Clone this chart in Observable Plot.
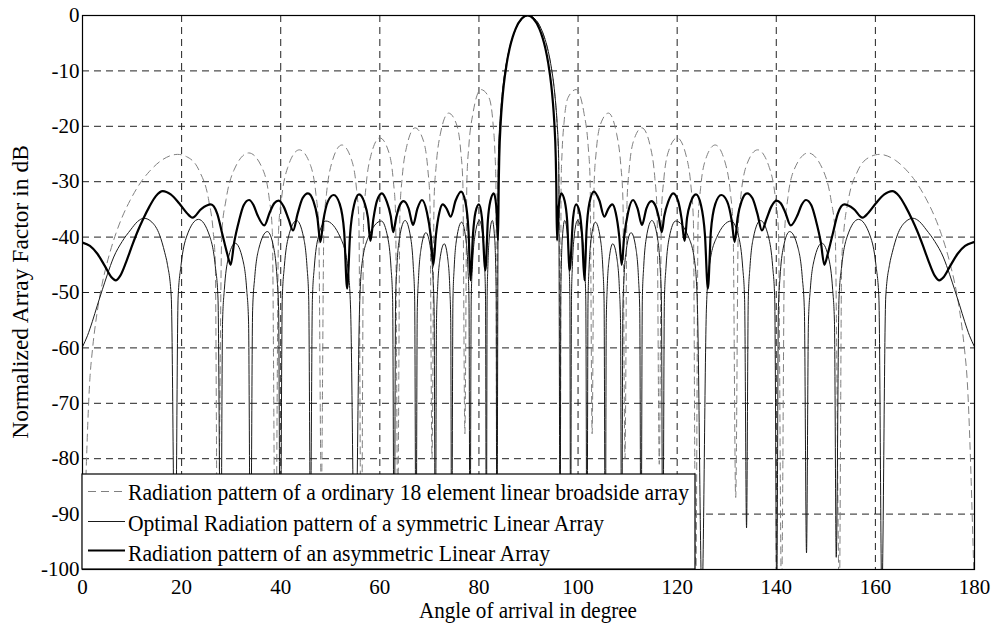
<!DOCTYPE html>
<html>
<head>
<meta charset="utf-8">
<script src="https://cdn.jsdelivr.net/npm/d3@7"></script>
<script src="https://cdn.jsdelivr.net/npm/@observablehq/plot@0.6"></script>
<style>
html, body { margin: 0; padding: 0; background: #fff; }
#chart { position: relative; width: 993px; height: 626px; overflow: hidden; }
</style>
</head>
<body>
<div id="chart"></div>
<script>
// ---------- data ----------
const seriesNames = [
  "Radiation pattern of a ordinary 18 element linear broadside array",
  "Optimal Radiation pattern of a symmetric Linear Array",
  "Radiation pattern of an asymmetric Linear Array"
];
const xTicks = [0, 20, 40, 60, 80, 100, 120, 140, 160, 180];
const yTicks = [0, -10, -20, -30, -40, -50, -60, -70, -80, -90, -100];
const xLabel = "Angle of arrival in degree";
const yLabel = "Normalized Array Factor in dB";

// [angle (deg), level (dB)]
const uniformPattern = [
[0,-105],[1.51,-65.3],[2,-60.4],[3.02,-53.2],[4,-48.3],[4.78,-45.3],[6.76,-39.3],[8,-36.4],[9.56,-33.45],[12,-29.8],[13.54,-28.11],[16,-26.11],[19.19,-25.07],[21,-25.48],[23.56,-28.04],[25.47,-33.35],[26.39,-39.18],[26.8,-44.7],[27.27,-105],
[28.12,-39.15],[28.96,-33.28],[30.56,-27.91],[33.56,-24.81],[36.34,-27.70],[37.67,-32.97],[38.30,-38.79],[38.94,-105],
[39.57,-38.72],[40.19,-32.83],[41.41,-27.43],[43.76,-24.25],[46.02,-27.07],[47.11,-32.30],[47.66,-38.10],[48.19,-87],
[48.72,-37.99],[49.25,-32.08],[50.29,-26.64],[52.33,-23.37],[54.31,-26.10],[55.29,-31.29],[55.77,-37.06],[56.25,-105],
[56.73,-36.90],[57.20,-30.97],[58.14,-25.47],[60.00,-22.10],[61.82,-24.71],[62.72,-29.83],[63.17,-35.57],[63.61,-90],
[64.06,-35.34],[64.50,-29.38],[65.38,-23.80],[67.11,-20.28],[68.83,-22.72],[69.68,-27.75],[70.11,-33.44],[70.53,-80],
[70.95,-33.11],[71.37,-27.09],[72.21,-21.40],[73.87,-17.62],[75.52,-19.77],[76.34,-24.63],[76.75,-30.23],[77.16,-75.5],
[77.57,-29.71],[77.96,-23.59],[78.79,-17.68],[80.41,-13.37],[82.02,-14.82],[82.82,-19.25],[83.22,-24.61],[83.42,-30.3],[83.62,-100],
[83.82,-29.8],[84.02,-23.54],[84.42,-17.09],[84.82,-13.22],[85.22,-10.43],[86.02,-6.53],[86.82,-3.91],[87.61,-2.11],[88.41,-0.91],[89.20,-0.22],[90,0],
[90.80,-0.22],[91.59,-0.91],[92.39,-2.11],[93.18,-3.91],[93.98,-6.53],[94.78,-10.43],[95.18,-13.22],[95.58,-17.09],[95.98,-23.54],[96.18,-29.8],[96.38,-100],
[96.58,-30.3],[96.78,-24.61],[97.18,-19.25],[97.98,-14.82],[99.59,-13.37],[101.21,-17.68],[102.04,-23.59],[102.43,-29.71],[102.84,-75.5],
[103.25,-30.23],[103.66,-24.63],[104.48,-19.77],[106.13,-17.62],[107.79,-21.40],[108.63,-27.09],[109.05,-33.11],[109.47,-80],
[109.89,-33.44],[110.32,-27.75],[111.17,-22.72],[112.89,-20.28],[114.62,-23.80],[115.50,-29.38],[115.94,-35.34],[116.39,-81],
[116.83,-35.57],[117.28,-29.83],[118.18,-24.71],[120.00,-22.10],[121.86,-25.47],[122.80,-30.97],[123.27,-36.90],[123.75,-105],
[124.23,-37.06],[124.71,-31.29],[125.69,-26.10],[127.67,-23.37],[129.71,-26.64],[130.75,-32.08],[131.28,-37.99],[131.81,-87],
[132.34,-38.10],[132.89,-32.30],[133.98,-27.07],[136.24,-24.25],[138.59,-27.43],[139.81,-32.83],[140.43,-38.72],[141.06,-105],
[141.70,-38.79],[142.33,-32.97],[143.66,-27.70],[146.44,-24.81],[149.44,-27.91],[151.04,-33.28],[151.88,-39.15],[152.73,-105],
[153.2,-44.7],[153.61,-39.18],[154.53,-33.35],[156.44,-28.04],[159,-25.48],[160.81,-25.07],[164,-26.11],[166.46,-28.11],[168,-29.8],[170.44,-33.45],[172,-36.4],[173.24,-39.3],[175.22,-45.3],[176,-48.3],[176.98,-53.2],[178,-60.4],[178.49,-65.3],[180,-105]
];

const symmetricPattern = [
[0,-59.8],[1,-57.8],[2,-55.2],[3,-52.3],[4,-49.5],[5,-46.8],[6.3,-43.6],[8,-40.8],[9.7,-38.7],[11.1,-37.2],[12.4,-36.6],[14,-37.3],[15.55,-39.6],[16.6,-42.8],[17.13,-44.9],[17.91,-50.8],[18.7,-105],
[19.29,-51.0],[19.88,-45.1],[21.05,-39.8],[23.4,-36.8],[25.65,-39.8],[26.78,-45.1],[27.34,-51.0],[27.9,-105],
[28.26,-55.3],[28.63,-49.4],[29.35,-44.1],[30.8,-41.1],[32.35,-44.1],[33.13,-49.4],[33.51,-55.3],[33.9,-105],
[34.33,-53.2],[34.75,-47.3],[35.6,-42.0],[37.3,-39.0],[38.6,-42.0],[39.25,-47.3],[39.58,-53.2],[39.9,-105],
[40.31,-51.2],[40.73,-45.3],[41.55,-40.0],[43.2,-37.0],[44.6,-40.0],[45.3,-45.3],[45.65,-51.2],[46.0,-92.5],
[46.39,-51.3],[46.78,-45.4],[47.55,-40.1],[49.1,-37.1],[52.05,-40.1],[53.53,-45.4],[54.1,-53],[55.0,-105],
[55.9,-53],[56.33,-45.4],[57.65,-40.1],[60.3,-37.1],[61.6,-40.1],[62.25,-45.4],[62.58,-51.3],[62.9,-105],
[63.18,-51.2],[63.45,-45.3],[64.0,-40.0],[65.1,-37.0],[66.2,-40.0],[66.75,-45.3],[67.03,-51.2],[67.3,-105],
[67.55,-53.4],[67.8,-47.5],[68.3,-42.2],[69.3,-39.2],[70.25,-42.2],[70.73,-47.5],[70.96,-53.4],[71.2,-105],
[71.43,-55.4],[71.65,-49.5],[72.1,-44.2],[73.0,-41.2],[73.75,-44.2],[74.13,-49.5],[74.31,-55.4],[74.5,-105],
[74.75,-51.5],[75.0,-45.6],[75.5,-40.3],[76.5,-37.3],[77.35,-40.3],[77.78,-45.6],[77.99,-51.5],[78.2,-105],
[78.44,-51.2],[78.68,-45.3],[79.15,-40.0],[80.1,-37.0],[80.8,-40.0],[81.15,-45.3],[81.33,-51.2],[81.5,-105],
[81.65,-51.2],[81.8,-45.3],[82.1,-40.0],[82.7,-37.0],[83.15,-40.0],[83.38,-45.3],[83.49,-51.2],[83.6,-105],
[83.92,-25.6],[84.24,-19.2],[84.56,-15.4],[84.88,-12.6],[85.52,-8.7],[86.16,-5.9],[86.8,-3.9],[87.44,-2.4],[88.72,-0.6],[90,0],
[91.28,-0.6],[92.56,-2.4],[93.2,-3.9],[93.84,-5.9],[94.48,-8.7],[95.12,-12.6],[95.44,-15.4],[95.76,-19.2],[96.08,-25.6],[96.4,-105],
[96.51,-51.2],[96.62,-45.3],[96.85,-40.0],[97.3,-37.0],[97.9,-40.0],[98.2,-45.3],[98.35,-51.2],[98.5,-105],
[98.67,-51.2],[98.85,-45.3],[99.2,-40.0],[99.9,-37.0],[100.85,-40.0],[101.32,-45.3],[101.56,-51.2],[101.8,-105],
[102.01,-51.5],[102.22,-45.6],[102.65,-40.3],[103.5,-37.3],[104.5,-40.3],[105.0,-45.6],[105.25,-51.5],[105.5,-105],
[105.69,-55.4],[105.87,-49.5],[106.25,-44.2],[107.0,-41.2],[107.9,-44.2],[108.35,-49.5],[108.57,-55.4],[108.8,-105],
[109.04,-53.4],[109.27,-47.5],[109.75,-42.2],[110.7,-39.2],[111.7,-42.2],[112.2,-47.5],[112.45,-53.4],[112.7,-105],
[112.97,-51.2],[113.25,-45.3],[113.8,-40.0],[114.9,-37.0],[116.0,-40.0],[116.55,-45.3],[116.82,-51.2],[117.1,-105],
[117.42,-51.3],[117.75,-45.4],[118.4,-40.1],[119.7,-37.1],[122.35,-40.1],[123.67,-45.4],[124.1,-53],[125.0,-105],
[125.9,-53],[126.47,-45.4],[127.95,-40.1],[130.9,-37.1],[132.45,-40.1],[133.22,-45.4],[133.61,-51.3],[134.0,-92.5],
[134.35,-51.2],[134.7,-45.3],[135.4,-40.0],[136.8,-37.0],[138.45,-40.0],[139.27,-45.3],[139.69,-51.2],[140.1,-105],
[140.42,-53.2],[140.75,-47.3],[141.4,-42.0],[142.7,-39.0],[144.4,-42.0],[145.25,-47.3],[145.67,-53.2],[146.1,-97],
[146.49,-55.3],[146.87,-49.4],[147.65,-44.1],[149.2,-41.1],[150.65,-44.1],[151.37,-49.4],[151.74,-55.3],[152.1,-97.8],
[152.66,-51.0],[153.22,-45.1],[154.35,-39.8],[156.6,-36.8],[158.95,-39.8],[160.12,-45.1],[160.71,-51.0],[161.3,-105],
[162.09,-50.8],[162.87,-44.9],[163.4,-42.8],[164.45,-39.6],[166,-37.3],[167.6,-36.6],[168.9,-37.2],[170.3,-38.7],[172,-40.8],[173.7,-43.6],[175,-46.8],[176,-49.5],[177,-52.3],[178,-55.2],[179,-57.8],[180,-59.8]
];

const asymmetricPattern = [
[0,-41.0],[1.5,-41.6],[3,-43.0],[4.5,-45.2],[5.8,-47.2],[6.7,-47.8],[7.6,-47.0],[8.8,-44.5],[10.1,-41.3],[11.2,-38.8],[12.1,-37.0],[13.5,-34.5],[14.8,-32.6],[16.2,-31.7],[17.8,-32.3],[19.5,-33.9],[21.0,-35.6],[22.2,-36.5],[24.0,-34.9],[25.9,-34.1],
[27.2,-35.8],[28.2,-39.4],[29.2,-43.0],[29.9,-45.0],[30.6,-41.0],[31.6,-37.0],[32.5,-34.3],[33.6,-33.3],[34.5,-34.2],[35.3,-36.0],[36.7,-37.9],[37.8,-35.5],[38.7,-33.9],[39.6,-33.4],[40.6,-34.5],[41.6,-36.8],[42.5,-38.8],[43.4,-35.8],[44.4,-33.0],[45.5,-32.1],
[46.6,-33.5],[47.4,-36.5],[48.0,-40.9],[48.6,-37.0],[49.5,-33.6],[50.7,-32.4],[51.9,-34.0],[52.8,-39.0],[53.4,-49.3],[54.0,-39.5],[54.8,-34.2],[55.8,-32.3],[56.9,-33.8],[57.6,-36.5],[58.1,-40.7],[58.7,-36.7],[59.4,-33.5],[60.4,-32.1],
[61.4,-33.6],[62.2,-36.2],[62.7,-39.1],[63.3,-36.5],[64.0,-34.3],[64.8,-33.5],[65.8,-34.8],[66.7,-37.8],[67.6,-34.8],[68.5,-33.3],[69.5,-35.5],[70.3,-40.0],[70.8,-45.0],[71.3,-39.8],[72.0,-35.6],[72.7,-34.1],[73.5,-34.9],[74.3,-36.3],[75.3,-33.4],[76.4,-31.8],
[77.3,-33.8],[77.9,-39.0],[78.3,-47.8],[78.8,-39.5],[79.3,-35.5],[80.0,-34.1],[80.6,-36.5],[81.3,-46.0],[81.8,-37.0],[82.3,-33.5],[83.0,-32.1],[83.5,-34.5],[83.85,-40.6],
[84.0,-30.0],[84.1,-25.6],[84.4,-19.2],[84.7,-15.4],[85.0,-12.6],[85.6,-8.7],[86.2,-5.9],[86.8,-3.9],[87.4,-2.4],[88.6,-0.6],[89.8,0],
[91.0,-0.6],[92.2,-2.4],[92.8,-3.9],[93.4,-5.9],[94.0,-8.7],[94.6,-12.6],[94.9,-15.4],[95.2,-19.2],[95.5,-25.6],[95.6,-30.0],
[95.75,-40.6],[96.1,-34.5],[96.6,-32.1],[97.3,-33.5],[97.8,-37.0],[98.3,-46.0],[99.0,-36.5],[99.6,-34.1],[100.3,-35.5],[100.8,-39.5],[101.3,-47.8],[101.7,-39.0],[102.3,-33.8],
[103.2,-31.8],[104.3,-33.4],[105.3,-36.3],[106.1,-34.9],[106.9,-34.1],[107.6,-35.6],[108.3,-39.8],[108.8,-45.0],[109.3,-40.0],[110.1,-35.5],[111.1,-33.3],[112.0,-34.8],[112.9,-37.8],[113.8,-34.8],[114.8,-33.5],[115.6,-34.3],[116.3,-36.5],[116.9,-39.1],[117.4,-36.2],[118.2,-33.6],
[119.2,-32.1],[120.2,-33.5],[120.9,-36.7],[121.5,-40.7],[122.0,-36.5],[122.7,-33.8],[123.8,-32.3],[124.8,-34.2],[125.6,-39.5],[126.2,-49.3],[126.8,-39.0],[127.7,-34.0],[128.9,-32.4],[130.1,-33.6],[131.0,-37.0],[131.6,-40.9],[132.2,-36.5],[133.0,-33.5],
[134.1,-32.1],[135.2,-33.0],[136.2,-35.8],[137.1,-38.8],[138.0,-36.8],[139.0,-34.5],[140.0,-33.4],[140.9,-33.9],[141.8,-35.5],[142.9,-37.9],[144.3,-36.0],[145.1,-34.2],[146.0,-33.3],[147.1,-34.3],[148.0,-37.0],[149.0,-41.0],[149.7,-45.0],[150.4,-43.0],[151.4,-39.4],[152.4,-35.8],
[153.7,-34.1],[155.6,-34.9],[157.4,-36.5],[158.6,-35.6],[160.1,-33.9],[161.8,-32.3],[163.4,-31.7],[164.8,-32.6],[166.1,-34.5],[167.5,-37.0],[168.4,-38.8],[169.5,-41.3],[170.8,-44.5],[172.0,-47.0],[172.9,-47.8],[173.8,-47.2],[175.1,-45.2],[176.6,-43.0],[178.1,-41.6],[179.6,-41.0],[180,-40.9]
];

// ---------- chart ----------
const toRows = pts => pts.map(([angle, db]) => ({angle, db}));
const W = 993, H = 626;
const M = {left: 82, right: 19, top: 15, bottom: 57};
const serif = "'Liberation Serif', 'Times New Roman', Times, serif";

const svg = Plot.plot({
  width: W,
  height: H,
  marginLeft: M.left,
  marginRight: M.right,
  marginTop: M.top,
  marginBottom: M.bottom,
  style: {fontFamily: serif, fontSize: "21px", background: "#fff", color: "#000"},
  x: {domain: [0, 180]},
  y: {domain: [-100, 0]},
  marks: [
    Plot.gridX({ticks: xTicks.slice(1, -1), stroke: "#222", strokeOpacity: 1, strokeWidth: 1, strokeDasharray: "7,5"}),
    Plot.gridY({ticks: yTicks.slice(1, -1), stroke: "#222", strokeOpacity: 1, strokeWidth: 1, strokeDasharray: "7,5"}),
    Plot.line(toRows(uniformPattern), {x: "angle", y: "db", stroke: "#808080", strokeWidth: 1, strokeDasharray: "7,5", curve: "monotone-x", clip: true}),
    Plot.line(toRows(symmetricPattern), {x: "angle", y: "db", stroke: "#1a1a1a", strokeWidth: 1, curve: "monotone-x", clip: true}),
    Plot.line(toRows(asymmetricPattern), {x: "angle", y: "db", stroke: "#000", strokeWidth: 2.2, curve: "monotone-x", clip: true}),
    Plot.frame({stroke: "#000", strokeWidth: 1.2}),
    Plot.axisX({ticks: xTicks, tickSize: 0, tickPadding: 10, tickFormat: d => String(d), label: null, fontSize: 21}),
    Plot.axisY({ticks: yTicks, tickSize: 0, tickPadding: 3, tickFormat: d => String(d), label: null, fontSize: 21})
  ]
});

const root = d3.select(svg);

// axis labels
root.append("text")
  .attr("x", (M.left + W - M.right) / 2)
  .attr("y", 618)
  .attr("text-anchor", "middle")
  .attr("font-family", serif)
  .attr("font-size", 22.5)
  .attr("textLength", 218)
  .attr("lengthAdjust", "spacingAndGlyphs")
  .attr("fill", "#000")
  .text(xLabel);

root.append("text")
  .attr("transform", `translate(28,${(M.top + H - M.bottom) / 2}) rotate(-90)`)
  .attr("text-anchor", "middle")
  .attr("font-family", serif)
  .attr("font-size", 23.5)
  .attr("fill", "#000")
  .text(yLabel);

// legend (inside the axes, lower left)
const lg = root.append("g").attr("text-anchor", "start");
lg.append("rect")
  .attr("x", 82).attr("y", 474).attr("width", 613).attr("height", 95)
  .attr("fill", "#fff").attr("stroke", "#000").attr("stroke-width", 1.2);
const legendStyles = [
  {stroke: "#808080", width: 1, dash: "8,5", y: 491.5, base: 500, len: 561},
  {stroke: "#1a1a1a", width: 1, dash: null, y: 521.5, base: 531, len: 476},
  {stroke: "#000", width: 2.2, dash: null, y: 550.5, base: 561, len: 422}
];
seriesNames.forEach((name, i) => {
  const s = legendStyles[i];
  const ln = lg.append("line")
    .attr("x1", 88).attr("x2", 125).attr("y1", s.y).attr("y2", s.y)
    .attr("stroke", s.stroke).attr("stroke-width", s.width);
  if (s.dash) ln.attr("stroke-dasharray", s.dash);
  lg.append("text")
    .attr("x", 128).attr("y", s.base)
    .attr("text-anchor", "start")
    .attr("font-family", serif).attr("font-size", 23)
    .attr("textLength", s.len).attr("lengthAdjust", "spacingAndGlyphs")
    .attr("fill", "#000")
    .text(name);
});

document.getElementById("chart").appendChild(svg);
</script>
</body>
</html>
